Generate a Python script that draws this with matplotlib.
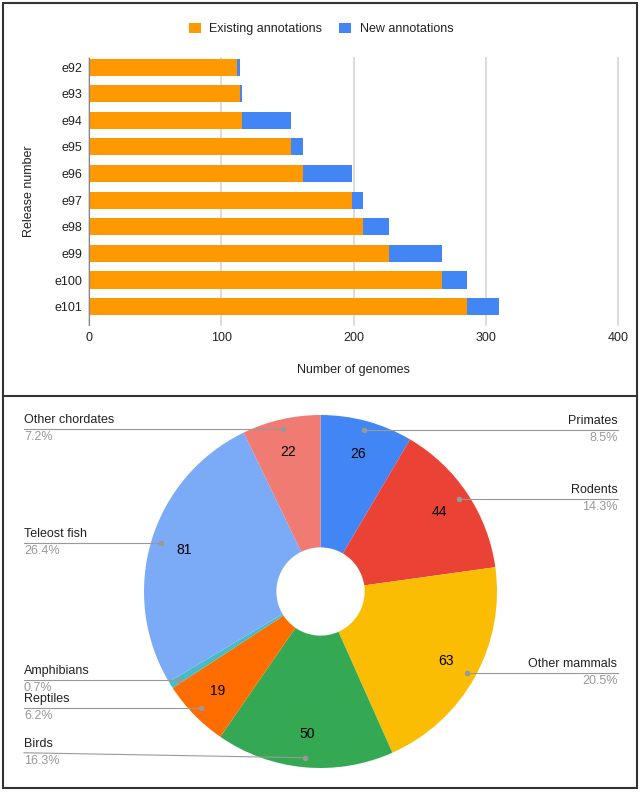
import matplotlib
matplotlib.use('Agg')
import matplotlib.pyplot as plt
from matplotlib.patches import Rectangle
from matplotlib.lines import Line2D
import numpy as np

plt.rcParams['font.family'] = ['Liberation Sans', 'DejaVu Sans']

# genomes per Ensembl release
releases = ['e92', 'e93', 'e94', 'e95', 'e96', 'e97', 'e98', 'e99', 'e100', 'e101']
existing = [112, 114, 116, 153, 162, 199, 207, 227, 267, 286]
new = [2, 2, 37, 9, 37, 8, 20, 40, 19, 24]

# genomes per taxonomic group
groups = ['Primates', 'Rodents', 'Other mammals', 'Birds', 'Reptiles',
          'Amphibians', 'Teleost fish', 'Other chordates']
counts = [26, 44, 63, 50, 19, 2, 81, 22]
group_colors = ['#4285f4', '#ea4335', '#fbbc04', '#34a853', '#ff6d01',
                '#46bdc6', '#7baaf7', '#f07b72']

W, H = 642, 792
fig = plt.figure(figsize=(W / 100, H / 100), dpi=100)


def fx(px):
    return px / W


def fy(py):
    return 1 - py / H


# --- stacked bars
ax = fig.add_axes([fx(89), fy(325), fx(618) - fx(89), fy(58) - fy(325)])
y = np.arange(len(releases))
ax.barh(y, existing, height=0.64, color='#ff9900', label='Existing annotations', zorder=3)
ax.barh(y, new, left=existing, height=0.64, color='#4285f4', label='New annotations', zorder=3)
ax.set_xlim(0, 400)
ax.set_ylim(9.69, -0.34)
ax.set_yticks(y, releases)
ax.set_xticks([0, 100, 200, 300, 400])
ax.tick_params(length=0, labelsize=9, colors='#222222')
ax.tick_params(axis='x', pad=5)
ax.tick_params(axis='y', pad=4.5)
ax.grid(axis='x', color='#d6d6d6', lw=1.2, zorder=0)
for gl in ax.get_xgridlines():
    gl.set_clip_on(False)
for s in ['top', 'right', 'bottom']:
    ax.spines[s].set_visible(False)
ax.spines['left'].set_color('#888888')
ax.spines['left'].set_zorder(4)
ax.set_xlabel('Number of genomes', fontsize=9, color='#222222')
ax.set_ylabel('Release number', fontsize=9, color='#222222')
ax.xaxis.set_label_coords(0.5, -0.145)
ax.yaxis.set_label_coords(-0.102, 0.5)

leg = fig.legend(loc='center', bbox_to_anchor=(0.5, fy(29)), ncol=2, frameon=False,
                 fontsize=9, handlelength=0.95, handleheight=0.95,
                 handletextpad=0.7, columnspacing=1.35)
for t in leg.get_texts():
    t.set_color('#222222')

# --- donut
R = 176.5
cx, cy = 320.5, 591.5
pax = fig.add_axes([0, 0, 1, fy(396)])
total = sum(counts)
wedges, _, autotexts = pax.pie(
    counts, colors=group_colors, startangle=90, counterclock=False, radius=1,
    wedgeprops=dict(width=0.75, linewidth=0), pctdistance=0.81,
    autopct=lambda p: f'{p * total / 100:.0f}' if p >= 5 else '',
    textprops=dict(fontsize=10, color='black'))
pax.set_aspect('auto')
pax.set_xlim(-cx / R, (W - cx) / R)
pax.set_ylim(-(H - cy) / R, (cy - 396) / R)
pax.axis('off')

nudge = {'Birds': 5}
for w, name, v in zip(wedges, groups, counts):
    ang = np.deg2rad((w.theta1 + w.theta2) / 2)
    dx, dy = 0.946 * np.cos(ang), 0.946 * np.sin(ang)
    ly = dy + nudge.get(name, 0) / R
    right = dx > 0
    lx = (617.5 - cx) / R if right else (24 - cx) / R
    ha = 'right' if right else 'left'
    pax.plot([dx, lx], [dy, ly], color='#999999', lw=0.8)
    pax.plot(dx, dy, 'o', color='#999999', ms=3)
    pax.text(lx, ly + 9 / R, name, ha=ha, va='center', fontsize=9, color='#222222')
    pax.text(lx, ly - 8 / R, f'{v / total * 100:.1f}%', ha=ha, va='center',
             fontsize=9, color='#999999')

# outer frame and divider
fig.add_artist(Rectangle((fx(3), fy(788)), fx(637) - fx(3), fy(3) - fy(788),
                         transform=fig.transFigure, fill=False, ec='#333333', lw=1.5))
fig.add_artist(Line2D([fx(3), fx(637)], [fy(396), fy(396)],
                      transform=fig.transFigure, color='#333333', lw=1.5))

fig.savefig('out.png', dpi=100)
